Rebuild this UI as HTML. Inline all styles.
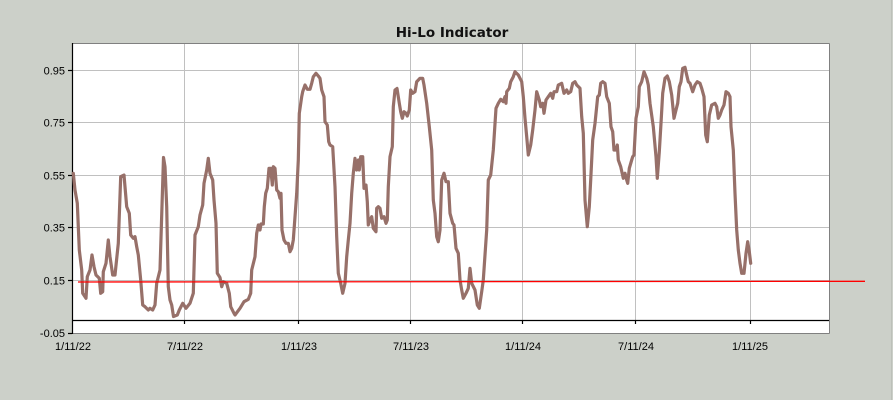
<!DOCTYPE html>
<html><head><meta charset="utf-8"><style>
html,body{margin:0;padding:0;background:#ccd0c9;}
svg{display:block;}
</style></head><body>
<svg width="893" height="400" viewBox="0 0 893 400" xmlns="http://www.w3.org/2000/svg">
<rect x="0" y="0" width="893" height="400" fill="#ccd0c9"/>
<line x1="891.5" y1="0" x2="891.5" y2="400" stroke="#bcc0b9" stroke-width="1"/>
<text x="452" y="37" text-anchor="middle" font-family="DejaVu Sans, Verdana, sans-serif" font-weight="bold" font-size="13.5" fill="#111">Hi-Lo Indicator</text>
<rect x="72" y="43.5" width="757" height="289.5" fill="#ffffff"/>
<g stroke="#c0c0c0" stroke-width="1" fill="none">
<line x1="72" y1="70.5" x2="829" y2="70.5"/>
<line x1="72" y1="122.5" x2="829" y2="122.5"/>
<line x1="72" y1="175.5" x2="829" y2="175.5"/>
<line x1="72" y1="227.5" x2="829" y2="227.5"/>
<line x1="72" y1="280.5" x2="829" y2="280.5"/>
<line x1="184.5" y1="43.5" x2="184.5" y2="320"/>
<line x1="298.5" y1="43.5" x2="298.5" y2="320"/>
<line x1="410.5" y1="43.5" x2="410.5" y2="320"/>
<line x1="522.5" y1="43.5" x2="522.5" y2="320"/>
<line x1="635.5" y1="43.5" x2="635.5" y2="320"/>
<line x1="750.5" y1="43.5" x2="750.5" y2="320"/>
</g>
<g stroke="#808080" stroke-width="1" fill="none">
<line x1="72" y1="43.5" x2="829.5" y2="43.5"/>
<line x1="829.5" y1="43.5" x2="829.5" y2="333.5"/>
<line x1="72" y1="333.5" x2="829.5" y2="333.5"/>
</g>
<g stroke="#000" stroke-width="1.2" fill="none">
<line x1="72" y1="320.5" x2="829" y2="320.5"/>
<line x1="72.5" y1="43" x2="72.5" y2="334"/>
<line x1="68" y1="70.5" x2="72" y2="70.5"/>
<line x1="68" y1="122.5" x2="72" y2="122.5"/>
<line x1="68" y1="175.5" x2="72" y2="175.5"/>
<line x1="68" y1="227.5" x2="72" y2="227.5"/>
<line x1="68" y1="280.5" x2="72" y2="280.5"/>
<line x1="68" y1="333.5" x2="72" y2="333.5"/>
<line x1="184.5" y1="320" x2="184.5" y2="324"/>
<line x1="298.5" y1="320" x2="298.5" y2="324"/>
<line x1="410.5" y1="320" x2="410.5" y2="324"/>
<line x1="522.5" y1="320" x2="522.5" y2="324"/>
<line x1="635.5" y1="320" x2="635.5" y2="324"/>
<line x1="750.5" y1="320" x2="750.5" y2="324"/>
</g>
<g font-family="Liberation Sans, Arial, sans-serif" font-size="11" fill="#000" text-anchor="end">
<text x="65" y="74.3">0.95</text>
<text x="65" y="126.5">0.75</text>
<text x="65" y="179.3">0.55</text>
<text x="65" y="231.5">0.35</text>
<text x="65" y="284.3">0.15</text>
<text x="65" y="337">-0.05</text>
</g>
<g font-family="Liberation Sans, Arial, sans-serif" font-size="11" fill="#000" text-anchor="middle">
<text x="73" y="350">1/11/22</text>
<text x="185" y="350">7/11/22</text>
<text x="299" y="350">1/11/23</text>
<text x="411" y="350">7/11/23</text>
<text x="523" y="350">1/11/24</text>
<text x="636" y="350">7/11/24</text>
<text x="750" y="350">1/11/25</text>
</g>
<polyline fill="none" stroke="#977069" stroke-width="3.2" stroke-linejoin="round" stroke-linecap="round" points="73.3,173.3 75,190 77.3,203.3 79.3,250 81.7,270 82.7,293.3 86,298.3 87.3,276.7 90,270 92,255 94,266.7 96,275 99.3,278.3 100.7,293.3 102.7,291.7 103.3,271.7 106,263.3 108.3,240 110,256.7 112.7,275 115,275 118.3,243.3 120.7,176.7 124,175 126.7,206.7 129.3,213.3 130.7,235 133.3,238.3 135,236.7 136.7,246.7 138.3,255 140.7,280 142.7,305 145,306.7 148.3,310 150,308.3 152.7,310 155,305 156.7,283.3 160,270 163.5,157.5 165,166.7 166.7,206.7 168.3,286.7 170,300 171.7,305 173.5,316.5 177.3,315 179.3,310 182.7,303.3 186,308.3 190,303.3 193.3,293.3 195,235 198.3,226.7 200,215 202.7,205 204,183.3 206.7,170 208.3,158.3 210,173.3 212.7,180 214,200 216,223.3 217.3,273.3 220,277.5 221.7,286.7 223.3,281.7 226.7,283.3 229.3,293.3 230.7,306.7 234,313.3 235,315 240,308.3 244,301.7 248.3,299.3 250.7,293.3 251.7,270 255,256.7 256.7,233.3 258.3,225 260,230 261,224 263.3,224 264.3,206.7 265.7,193.3 267.3,188.3 269,168.3 270.7,168.3 272.3,185 273.3,166.7 275,168.3 276.7,190 278.3,191.7 280,198.3 281,193.3 282,230 284,240 286,243.3 288.3,243.3 290,251.7 291.7,248.3 293.3,240 295,216.7 296.7,193.3 298.3,160 299.3,113.3 301.7,96.7 302.7,91.7 305,85 307.3,89.3 310,89.3 311.7,83.3 313.3,76.7 316,73.3 318.3,76 320,78.3 321.7,90 324,96.7 325,121.7 327.3,125 328.7,141.7 330,145 332.7,146.7 335,186.7 336.7,236.7 338.3,273.3 340.7,283.3 342.7,293.3 345,283.3 346.7,256.7 348.3,240 350,223.3 351.7,193.3 353.3,173.3 355,158.3 356.7,170 358.3,160 359.3,170 360.7,156.7 362.7,156.7 364,188.3 366,185 367.3,201.7 368.3,225 370,220 371.7,216.7 373.3,228.3 376,231.7 376.7,208.3 378.3,206.7 380,208.3 381.7,218.3 384,216.7 386,223.3 387.3,220 388.3,186.7 390,156.7 392.3,146.7 393.3,106.7 395,90 397,88.5 399.3,103.3 400.7,111.7 402.3,118.3 404,111.7 406,113.3 407.3,116 409.3,110 410.7,90 412.7,93.3 415,91.7 416.7,81.7 420,78.3 422.7,78.3 424,85 426.7,103.3 429.3,126.7 431.7,150 433.3,200 435,213.3 436.7,236.7 438.3,241.7 440,230 441.7,180 444,173.3 446,181.7 448.3,181.7 450,213.3 452.7,223.3 454,225 456,248.3 458.3,253.3 460,280 461.7,290 463.3,298.3 466,293.3 468.3,288.3 470,268.3 471.7,283.3 475,290 477.3,305 479.3,308.3 481.7,291.7 483.3,280 486.7,230 488.3,180 490.7,175 493.3,150 496,108.3 498.3,103.3 500.7,99.3 503.3,101.7 505,96.7 506,103.3 506.7,91.7 509.3,88.3 510.7,81.7 513.3,76.7 515,71.7 518.3,75 521.7,81.7 523.3,96.7 525,118.3 526.7,136.7 528.3,155 530.7,145 532.7,130 535,110 536.7,91.7 539.3,100 540.7,106.7 542.7,103.3 544,113.3 546,100 548.3,96.7 550.7,93.3 552.7,98.3 554,91.7 556.7,91.7 558.3,85 561.7,83.3 564,93.3 566.7,90 568.3,93.3 570.7,91.7 572.7,83.3 575,81.7 576.7,85 580,88.3 581.7,116.7 583.3,133.3 585,200 587.3,226.7 589.3,206.7 590.7,180 592.7,140 595,123.3 597.7,96.7 599.3,95 600.7,83.3 602.7,81.7 605,83.3 606.7,96.7 609.3,103.3 611,126.7 612.7,131.7 614,150 616,150 617.3,145 618.3,160 620.7,166.7 623.3,178.3 625,173.3 626.7,180 627.7,183.3 629.3,168.3 631.7,160 632.7,156.7 634,155 636,118.3 638.3,106.7 639.3,86.7 641.7,81.7 644,71.7 646.7,78.3 648.3,85 650,103.3 653.3,126.7 656,156.7 657.3,178.3 659.3,151.7 661,123.3 662.7,93.3 665,78.3 667.3,76 669.3,81.7 671.7,95 674,118.3 676,110 677.7,103.3 679.3,86.7 681,81.7 682.7,68.3 685,67.3 686.7,75 688.3,81.7 690,83.3 692.7,91.7 695,85 697.3,81.7 700,83.3 701.7,88.3 704,96.7 705.7,135 707.3,141.7 709.3,115 711.7,105 715,103.3 716.7,106.7 718.3,118.3 720,115 721.7,110 724,105 726,91.7 728.3,93.3 730,96.7 731,126.7 733.3,150 735,193.3 736.7,230 738.3,250 740,263.3 741.7,273.3 744,273.3 746,253.3 747.7,241.7 749.3,251.7 750.7,263.3"/>
<line x1="78" y1="282" x2="865" y2="281.3" stroke="#ff0000" stroke-width="1.3"/>
</svg>
</body></html>
